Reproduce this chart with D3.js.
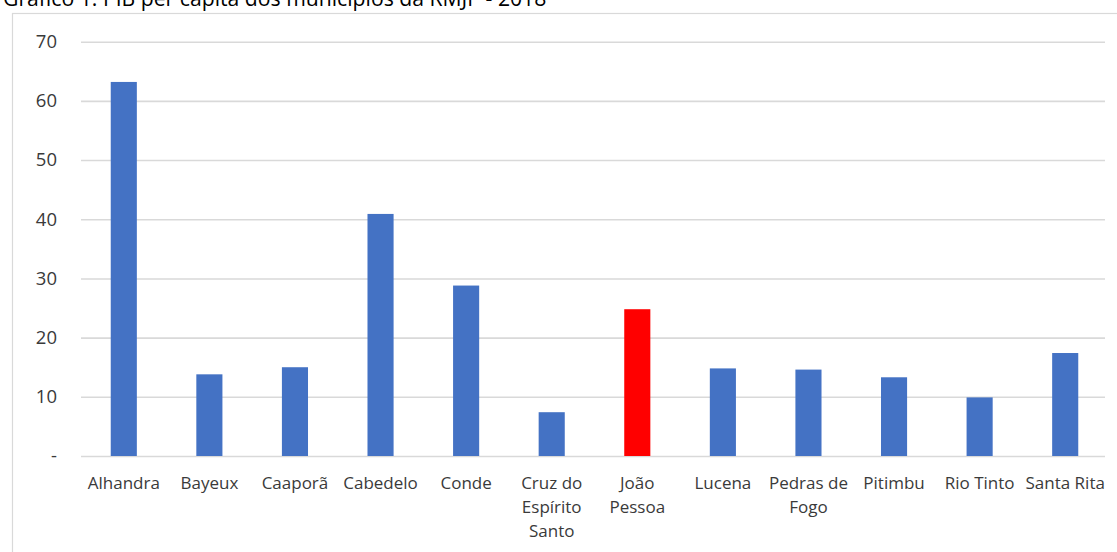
<!DOCTYPE html>
<html>
<head>
<meta charset="utf-8">
<script src="https://cdn.jsdelivr.net/npm/d3@7"></script>
<style>
  html, body { margin: 0; padding: 0; background: #fff; }
  svg { display: block; font-family: "Open Sans", "Noto Sans", sans-serif; }
</style>
</head>
<body>
<svg id="chart" width="1117" height="552"></svg>
<script>
// PIB per capita (R$ mil) dos municípios da RMJP, 2018
const municipios = [
  ["Alhandra"], ["Bayeux"], ["Caaporã"], ["Cabedelo"], ["Conde"],
  ["Cruz do", "Espírito", "Santo"], ["João", "Pessoa"], ["Lucena"],
  ["Pedras de", "Fogo"], ["Pitimbu"], ["Rio Tinto"], ["Santa Rita"]
];
const pibPerCapita = [63.2, 13.8, 15.0, 40.9, 28.8, 7.4, 24.8, 14.8, 14.6, 13.3, 9.9, 17.4];
const destaque = "João Pessoa";
const yTicks = [0, 10, 20, 30, 40, 50, 60, 70];
const titulo = "Gráfico 1: PIB per capita dos municípios da RMJP - 2018";

const FONT = "\"Open Sans\", \"Noto Sans\", sans-serif";
const svg = d3.select("#chart");
const names = municipios.map(m => m.join(" "));

const x = d3.scaleBand().domain(names).range([81, 1108]).paddingInner(0.695).paddingOuter(0.3475);
const y = d3.scaleLinear().domain([0, 70]).range([456, 41.7]);

// title, partly above the visible area
svg.append("text")
  .attr("x", 3).attr("y", 6)
  .attr("font-size", 21.2).attr("fill", "#000")
  .attr("font-family", FONT)
  .text(titulo);

// chart frame
svg.append("rect")
  .attr("x", 12.5).attr("y", 13.5)
  .attr("width", 1120).attr("height", 560)
  .attr("fill", "none").attr("stroke", "#d9d9d9").attr("stroke-width", 1.2);

// gridlines and y labels
const yAxis = d3.axisLeft(y)
  .tickValues(yTicks)
  .tickSize(-(1105 - 81))
  .tickPadding(24)
  .tickFormat(d => d === 0 ? "-" : d3.format("d")(d));

const gy = svg.append("g").attr("transform", "translate(81,0)").call(yAxis);
gy.select(".domain").remove();
gy.selectAll(".tick line").attr("stroke", "#d9d9d9").attr("stroke-width", 1.6);
gy.selectAll(".tick text")
  .attr("font-size", 18.5).attr("fill", "#3a3a3a")
  .attr("font-family", FONT);

// bars
svg.append("g").selectAll("rect")
  .data(names)
  .join("rect")
  .attr("x", d => x(d))
  .attr("width", x.bandwidth())
  .attr("y", (d, i) => y(pibPerCapita[i]))
  .attr("height", (d, i) => y(0) - y(pibPerCapita[i]))
  .attr("fill", d => d === destaque ? "#ff0000" : "#4472c4");

// category labels (multi-line)
const xAxis = d3.axisBottom(x).tickSize(0).tickPadding(0).tickFormat("");
const gx = svg.append("g").attr("transform", "translate(0,456)").call(xAxis);
gx.select(".domain").remove();
gx.selectAll(".tick").each(function (d, i) {
  const t = d3.select(this).append("text")
    .attr("text-anchor", "middle")
    .attr("font-family", FONT)
    .attr("font-size", 17)
    .attr("fill", "#3a3a3a")
    .attr("y", 33);
  municipios[i].forEach((line, k) => {
    t.append("tspan").attr("x", 0).attr("dy", k === 0 ? 0 : 24).text(line);
  });
});
</script>
</body>
</html>
